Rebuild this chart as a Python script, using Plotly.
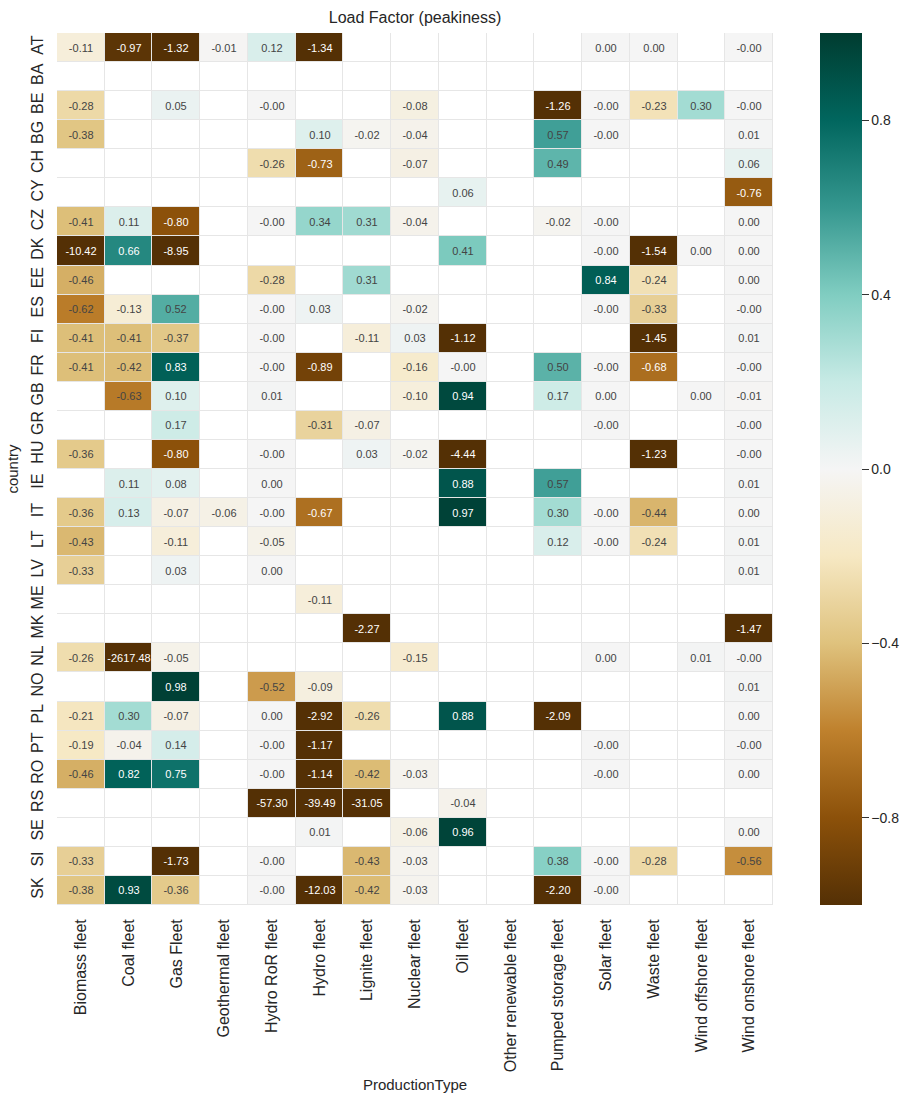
import plotly.graph_objects as go

countries = ["AT", "BA", "BE", "BG", "CH", "CY", "CZ", "DK", "EE", "ES",
             "FI", "FR", "GB", "GR", "HU", "IE", "IT", "LT", "LV", "ME",
             "MK", "NL", "NO", "PL", "PT", "RO", "RS", "SE", "SI", "SK"]

production_types = ["Biomass fleet", "Coal fleet", "Gas Fleet", "Geothermal fleet",
                    "Hydro RoR fleet", "Hydro fleet", "Lignite fleet", "Nuclear fleet",
                    "Oil fleet", "Other renewable fleet", "Pumped storage fleet",
                    "Solar fleet", "Waste fleet", "Wind offshore fleet", "Wind onshore fleet"]

N = None
Z0 = -0.001  # displayed as "-0.00"

# columns: Biomass, Coal, Gas, Geo, HydroRoR, Hydro, Lignite, Nuclear, Oil, OtherRen, Pumped, Solar, Waste, WindOff, WindOn
AT = [-0.11, -0.97, -1.32, -0.01, 0.12, -1.34, N, N, N, N, N, 0.0, 0.0, N, Z0]
BA = [N, N, N, N, N, N, N, N, N, N, N, N, N, N, N]
BE = [-0.28, N, 0.05, N, Z0, N, N, -0.08, N, N, -1.26, Z0, -0.23, 0.30, Z0]
BG = [-0.38, N, N, N, N, 0.10, -0.02, -0.04, N, N, 0.57, Z0, N, N, 0.01]
CH = [N, N, N, N, -0.26, -0.73, N, -0.07, N, N, 0.49, N, N, N, 0.06]
CY = [N, N, N, N, N, N, N, N, 0.06, N, N, N, N, N, -0.76]
CZ = [-0.41, 0.11, -0.80, N, Z0, 0.34, 0.31, -0.04, N, N, -0.02, Z0, N, N, 0.0]
DK = [-10.42, 0.66, -8.95, N, N, N, N, N, 0.41, N, N, Z0, -1.54, 0.0, 0.0]
EE = [-0.46, N, N, N, -0.28, N, 0.31, N, N, N, N, 0.84, -0.24, N, 0.0]
ES = [-0.62, -0.13, 0.52, N, Z0, 0.03, N, -0.02, N, N, N, Z0, -0.33, N, Z0]
FI = [-0.41, -0.41, -0.37, N, Z0, N, -0.11, 0.03, -1.12, N, N, N, -1.45, N, 0.01]
FR = [-0.41, -0.42, 0.83, N, Z0, -0.89, N, -0.16, Z0, N, 0.50, Z0, -0.68, N, Z0]
GB = [N, -0.63, 0.10, N, 0.01, N, N, -0.10, 0.94, N, 0.17, 0.0, N, 0.0, -0.01]
GR = [N, N, 0.17, N, N, -0.31, -0.07, N, N, N, N, Z0, N, N, Z0]
HU = [-0.36, N, -0.80, N, Z0, N, 0.03, -0.02, -4.44, N, N, N, -1.23, N, Z0]
IE = [N, 0.11, 0.08, N, 0.0, N, N, N, 0.88, N, 0.57, N, N, N, 0.01]
IT = [-0.36, 0.13, -0.07, -0.06, Z0, -0.67, N, N, 0.97, N, 0.30, Z0, -0.44, N, 0.0]
LT = [-0.43, N, -0.11, N, -0.05, N, N, N, N, N, 0.12, Z0, -0.24, N, 0.01]
LV = [-0.33, N, 0.03, N, 0.0, N, N, N, N, N, N, N, N, N, 0.01]
ME = [N, N, N, N, N, -0.11, N, N, N, N, N, N, N, N, N]
MK = [N, N, N, N, N, N, -2.27, N, N, N, N, N, N, N, -1.47]
NL = [-0.26, -2617.48, -0.05, N, N, N, N, -0.15, N, N, N, 0.0, N, 0.01, Z0]
NO = [N, N, 0.98, N, -0.52, -0.09, N, N, N, N, N, N, N, N, 0.01]
PL = [-0.21, 0.30, -0.07, N, 0.0, -2.92, -0.26, N, 0.88, N, -2.09, N, N, N, 0.0]
PT = [-0.19, -0.04, 0.14, N, Z0, -1.17, N, N, N, N, N, Z0, N, N, Z0]
RO = [-0.46, 0.82, 0.75, N, Z0, -1.14, -0.42, -0.03, N, N, N, Z0, N, N, 0.0]
RS = [N, N, N, N, -57.30, -39.49, -31.05, N, -0.04, N, N, N, N, N, N]
SE = [N, N, N, N, N, 0.01, N, -0.06, 0.96, N, N, N, N, N, 0.0]
SI = [-0.33, N, -1.73, N, Z0, N, -0.43, -0.03, N, N, 0.38, Z0, -0.28, N, -0.56]
SK = [-0.38, 0.93, -0.36, N, Z0, -12.03, -0.42, -0.03, N, N, -2.20, Z0, N, N, N]

rows = [AT, BA, BE, BG, CH, CY, CZ, DK, EE, ES, FI, FR, GB, GR, HU, IE, IT, LT,
        LV, ME, MK, NL, NO, PL, PT, RO, RS, SE, SI, SK]

text = [["" if v is None else f"{v:.2f}" for v in r] for r in rows]

FONT = "Liberation Sans, Arial, sans-serif"
TXT = "#262626"

fig = go.Figure()

# white background cells (blank / NaN cells)
fig.add_trace(go.Heatmap(
    x=production_types, y=countries,
    z=[[0] * len(production_types) for _ in countries],
    colorscale=[[0, "white"], [1, "white"]], showscale=False,
    xgap=1, ygap=1, hoverinfo="skip",
))

fig.add_trace(go.Heatmap(
    x=production_types, y=countries, z=rows,
    text=text, texttemplate="%{text}",
    textfont=dict(size=11, family=FONT),
    colorscale="BrBG", zmin=-1, zmax=1,
    xgap=1, ygap=1,
    colorbar=dict(
        thickness=42, lenmode="pixels", len=872,
        x=1.0656, xanchor="left", y=0.5, yanchor="middle",
        xpad=0, ypad=0,
        outlinewidth=0,
        tickvals=[-0.8, -0.4, 0.0, 0.4, 0.8], tickformat=".1f",
        ticks="outside", ticklen=7, tickcolor="#333",
        tickfont=dict(size=14, family=FONT, color=TXT),
    ),
))

fig.update_layout(
    width=906, height=1096,
    margin=dict(l=57, r=133, t=33, b=191, autoexpand=False),
    plot_bgcolor="#e6e6e6", paper_bgcolor="white",
    font=dict(family=FONT, color=TXT),
    title=dict(text="Load Factor (peakiness)", x=0.5, xref="paper",
               y=1 - 17 / 1096, yref="container", xanchor="center", yanchor="middle",
               font=dict(size=16, color=TXT, family=FONT)),
    xaxis=dict(tickangle=-90, tickfont=dict(size=16, color=TXT), automargin=False,
               showgrid=False, zeroline=False, ticks="", ticklabelstandoff=10,
               title=dict(text="ProductionType", font=dict(size=15, color=TXT), standoff=8)),
    yaxis=dict(autorange="reversed", tickangle=-90, tickfont=dict(size=16, color=TXT),
               automargin=False,
               showgrid=False, zeroline=False, ticks="", ticklabelstandoff=10,
               title=dict(text="country", font=dict(size=15, color=TXT), standoff=6)),
)

fig.write_html("out.html", post_script="document.body.style.margin='0px';",
               config={"displayModeBar": False})
